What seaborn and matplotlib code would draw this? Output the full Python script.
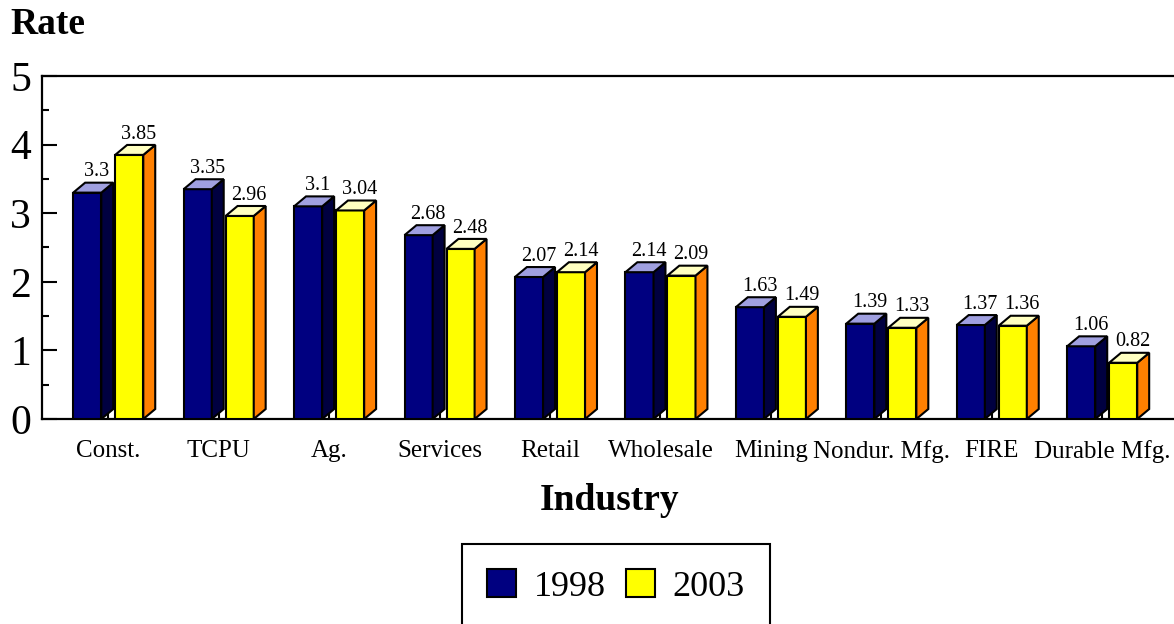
import matplotlib
matplotlib.use("Agg")
import matplotlib.pyplot as plt
import pandas as pd
import seaborn as sns
from matplotlib.patches import Polygon
from matplotlib.ticker import MultipleLocator

# data
industries = ['Const.', 'TCPU', 'Ag.', 'Services', 'Retail', 'Wholesale',
              'Mining', 'Nondur. Mfg.', 'FIRE', 'Durable Mfg.']
years = ['1998', '2003']
rate_1998 = [3.3, 3.35, 3.1, 2.68, 2.07, 2.14, 1.63, 1.39, 1.37, 1.06]
rate_2003 = [3.85, 2.96, 3.04, 2.48, 2.14, 2.09, 1.49, 1.33, 1.36, 0.82]
labels_1998 = ['3.3', '3.35', '3.1', '2.68', '2.07', '2.14', '1.63', '1.39', '1.37', '1.06']
labels_2003 = ['3.85', '2.96', '3.04', '2.48', '2.14', '2.09', '1.49', '1.33', '1.36', '0.82']

front_colors = ['#000080', '#ffff00']
side_colors = ['#000040', '#ff8000']
top_colors = ['#a0a0e0', '#ffffc0']

df = pd.DataFrame({
    'Industry': industries * 2,
    'Year': [years[0]] * len(industries) + [years[1]] * len(industries),
    'Rate': rate_1998 + rate_2003,
})

sns.set_style('white')
plt.rcParams['font.family'] = ['Liberation Serif', 'DejaVu Serif']
plt.rcParams['text.color'] = 'black'
plt.rcParams['xtick.color'] = 'black'
plt.rcParams['ytick.color'] = 'black'
plt.rcParams['axes.labelcolor'] = 'black'

fig = plt.figure(figsize=(11.74, 6.24), dpi=100)
ax = fig.add_axes([42 / 1174, 205 / 624, 1 - 42 / 1174, 343 / 624])

sns.barplot(data=df, x='Industry', y='Rate', hue='Year', palette=front_colors,
            width=0.76, gap=0.33, edgecolor='black', linewidth=1.5,
            saturation=1, ax=ax, zorder=3)

# fake 3D depth for each bar
dx, dy = 0.108, 0.145
all_labels = [labels_1998, labels_2003]
for i, cont in enumerate(ax.containers):
    for j, bar in enumerate(cont.patches):
        x0 = bar.get_x()
        w = bar.get_width()
        h = bar.get_height()
        side = Polygon([(x0 + w, 0), (x0 + w + dx, dy), (x0 + w + dx, h + dy), (x0 + w, h)],
                       closed=True, facecolor=side_colors[i], edgecolor='black',
                       linewidth=1.5, zorder=3, joinstyle='miter')
        top = Polygon([(x0, h), (x0 + dx, h + dy), (x0 + w + dx, h + dy), (x0 + w, h)],
                      closed=True, facecolor=top_colors[i], edgecolor='black',
                      linewidth=1.5, zorder=3, joinstyle='miter')
        ax.add_patch(side)
        ax.add_patch(top)
        ax.annotate(all_labels[i][j], (x0 + w / 2 + dx * 0.8, h + dy),
                    xytext=(0, 1), textcoords='offset points',
                    ha='center', va='bottom', fontsize=14.5, zorder=4)

ax.set_ylim(0, 5)
ax.set_xlim(-0.6, 9.65)
ax.yaxis.set_major_locator(MultipleLocator(1))
ax.yaxis.set_minor_locator(MultipleLocator(0.5))
ax.tick_params(axis='y', which='major', direction='in', length=11, width=1.5,
               labelsize=30, pad=8, left=True)
ax.tick_params(axis='y', which='minor', direction='in', length=5, width=1.5, left=True)
ax.tick_params(axis='x', which='major', direction='in', length=9, width=1.5,
               labelsize=18, pad=15, bottom=True)
for side_name in ['left', 'top', 'bottom']:
    ax.spines[side_name].set_visible(True)
    ax.spines[side_name].set_color('black')
    ax.spines[side_name].set_linewidth(1.6)
ax.spines['right'].set_visible(False)
ax.set_xlabel('')
ax.set_ylabel('')

handles, lbls = ax.get_legend_handles_labels()
ax.get_legend().remove()
leg = fig.legend(handles, lbls, loc='upper center', bbox_to_anchor=(616 / 1174, 1 - 544 / 624),
                 ncol=2, fontsize=26, frameon=True, fancybox=False, edgecolor='black',
                 framealpha=1, borderpad=0.7, borderaxespad=0, handlelength=0.8,
                 handleheight=0.8, handletextpad=0.5, columnspacing=0.55)
leg.get_frame().set_linewidth(1.5)

fig.text(10 / 1174, 1 - 25 / 624, 'Rate', fontsize=27, fontweight='bold', ha='left', va='center')
fig.text(610 / 1174, 1 - 501 / 624, 'Industry', fontsize=27, fontweight='bold', ha='center', va='center')

fig.savefig('out.png', dpi=100)
